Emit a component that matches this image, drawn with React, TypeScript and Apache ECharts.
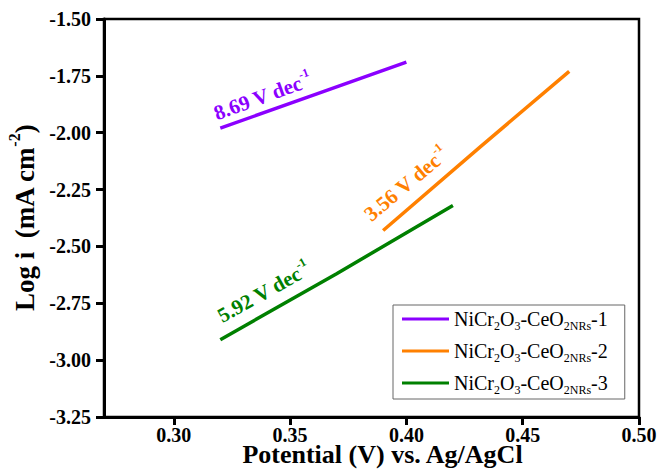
import React, { useEffect, useRef } from "react";
import * as echarts from "echarts";

const seriesNames = ["NiCr2O3-CeO2NRs-1", "NiCr2O3-CeO2NRs-2", "NiCr2O3-CeO2NRs-3"];
const series1: [number, number][] = [[0.32, -1.98], [0.36, -1.835], [0.40, -1.69]];
const series2: [number, number][] = [[0.39, -2.43], [0.432, -2.06], [0.47, -1.73]];
const series3: [number, number][] = [[0.32, -2.91], [0.37, -2.62], [0.42, -2.32]];
const xTicks = [0.30, 0.35, 0.40, 0.45, 0.50];
const slopeLabels = ["8.69", "3.56", "5.92"];
const colors = ["#8B00FF", "#FF8000", "#008000"];

const FONT = "'Liberation Serif', 'Times New Roman', serif";

export default function App() {
  const ref = useRef<HTMLDivElement>(null);
  useEffect(() => {
    if (!ref.current) return;
    const chart = echarts.init(ref.current, undefined, { renderer: "svg" });
    const annot = (label: string, color: string, x: number, y: number, deg: number) => ({
      type: "text",
      x,
      y,
      rotation: (deg * Math.PI) / 180,
      style: {
        text: `{m|${label} V dec}{s|-1}`,
        align: "center",
        verticalAlign: "middle",
        rich: {
          m: { fontFamily: FONT, fontWeight: "bold", fontSize: 21, fill: color, lineHeight: 24, verticalAlign: "bottom" },
          s: { fontFamily: FONT, fontWeight: "bold", fontSize: 12, fill: color, lineHeight: 24, verticalAlign: "top" },
        },
      },
    });
    const legendFmt = (name: string) => {
      const idx = name.slice(-1);
      return `{n|NiCr}{b|2}{n|O}{b|3}{n|-CeO}{b|2NRs}{n|-${idx}}`;
    };
    chart.setOption({
      animation: false,
      grid: {
        left: 104, right: 18, top: 19, bottom: 52,
        show: true, borderColor: "#000", borderWidth: 2.5,
        outerBoundsMode: "none", containLabel: false,
      },
      xAxis: {
        type: "value",
        min: 0.27,
        max: 0.5,
        splitLine: { show: false },
        axisLine: { onZero: false, lineStyle: { color: "#000", width: 3 } },
        axisTick: { show: true, length: 8, lineStyle: { width: 3, color: "#000" }, customValues: xTicks },
        axisLabel: {
          customValues: xTicks,
          formatter: (v: number) => v.toFixed(2),
          fontFamily: FONT,
          fontWeight: "bold",
          fontSize: 20,
          lineHeight: 17,
          color: "#000",
          margin: 9,
        },
        name: "Potential (V) vs. Ag/AgCl",
        nameLocation: "middle",
        nameGap: 27,
        nameMoveOverlap: false,
        nameTextStyle: { fontFamily: FONT, fontWeight: "bold", fontSize: 26, lineHeight: 21, color: "#000", padding: [0, 0, 0, 22] },
      },
      yAxis: {
        type: "value",
        min: -3.25,
        max: -1.5,
        interval: 0.25,
        splitLine: { show: false },
        axisLine: { onZero: false, lineStyle: { color: "#000", width: 3 } },
        axisTick: { show: true, length: 8, lineStyle: { width: 3, color: "#000" } },
        axisLabel: {
          formatter: (v: number) => v.toFixed(2),
          fontFamily: FONT,
          fontWeight: "bold",
          fontSize: 20,
          color: "#000",
          margin: 13,
        },
        name: "{t|Log i  (mA cm}{u|-2}{t|)}",
        nameLocation: "middle",
        nameGap: 64,
        nameRotate: 90,
        nameTextStyle: {
          rich: {
            t: { fontFamily: FONT, fontWeight: "bold", fontSize: 27, color: "#000", lineHeight: 32, verticalAlign: "bottom" },
            u: { fontFamily: FONT, fontWeight: "bold", fontSize: 16, color: "#000", lineHeight: 32, verticalAlign: "top" },
          },
        },
      },
      legend: {
        orient: "vertical",
        left: 393,
        top: 305,
        itemWidth: 47,
        itemHeight: 3,
        itemGap: 9,
        icon: "rect",
        borderColor: "#666",
        borderWidth: 1,
        padding: [4, 17, 3, 9],
        data: seriesNames,
        formatter: legendFmt,
        textStyle: {
          padding: [0, 0, 0, 0],
          rich: {
            n: { fontFamily: FONT, fontSize: 20, color: "#000", lineHeight: 26, verticalAlign: "middle" },
            b: { fontFamily: FONT, fontSize: 12, color: "#000", lineHeight: 26, verticalAlign: "bottom" },
          },
        },
      },
      series: [series1, series2, series3].map((d, i) => ({
        name: seriesNames[i],
        type: "line",
        data: d,
        symbol: "none",
        lineStyle: { color: colors[i], width: 3.5 },
        itemStyle: { color: colors[i] },
      })),
      graphic: [
        annot(slopeLabels[0], colors[0], 262, 95, 20),
        annot(slopeLabels[1], colors[1], 405, 183, 40),
        annot(slopeLabels[2], colors[2], 263, 291, 29),
      ],
    });
    return () => chart.dispose();
  }, []);
  return <div ref={ref} style={{ width: 657, height: 469, position: "absolute", left: 0, top: 0 }} />;
}
